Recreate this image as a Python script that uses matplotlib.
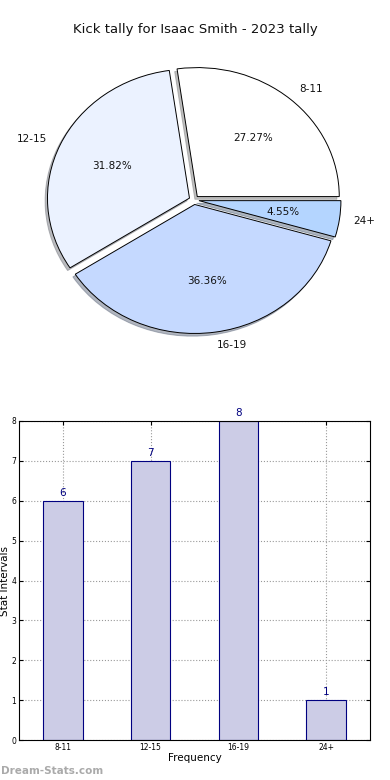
import numpy as np
import matplotlib
matplotlib.use("Agg")
import matplotlib.pyplot as plt

# ================= DATOS =================
categorias = ["8-11", "12-15", "16-19", "24+"]
conteos = [6, 7, 8, 1]
colores_pie = ["#FFFFFF", "#EBF2FF", "#C5D9FF", "#B4D5FF"]

titulo = "Kick tally for Isaac Smith - 2023 tally"

fig = plt.figure(figsize=(3.9, 7.8), dpi=100)

# ================= PIE =================
# el pie original esta algo achatado: escala x e y distintas
ax_pie = fig.add_axes([0, 1 - 360 / 780, 1, 310 / 780])
rx_px = 142.0
ry_px = 129.0
ax_pie.pie(conteos, labels=categorias, colors=colores_pie, autopct="%1.2f%%",
           explode=[0.035] * len(conteos),
           shadow={"ox": -0.012, "oy": -0.015, "shade": 0.5}, startangle=0,
           wedgeprops={"edgecolor": "black", "linewidth": 0.7},
           textprops={"fontsize": 7.5, "color": "#111111"})
ax_pie.set_xlim(-194 / rx_px, 196 / rx_px)
ax_pie.set_ylim(-160 / ry_px, 150 / ry_px)
ax_pie.set_aspect("auto")
ax_pie.axis("off")

fig.text(0.5, 1 - 30 / 780, titulo, ha="center", va="center", fontsize=9.5, color="#111111")

# ================= BARRAS =================
ax_bar = fig.add_axes([19 / 390, 1 - 740 / 780, 351 / 390, 319 / 780])
x = np.arange(len(categorias))
barras = ax_bar.bar(x, conteos, width=0.45, color="#CCCCE6", edgecolor="#000080", linewidth=0.8, zorder=2)

for barra, valor in zip(barras, conteos):
    ax_bar.text(barra.get_x() + barra.get_width() / 2, valor + 0.08, f"{valor}",
                ha="center", va="bottom", fontsize=7.5, color="#000080")

ax_bar.set_xlim(-0.5, 3.5)
ax_bar.set_ylim(0, 8)
ax_bar.set_xticks(x)
ax_bar.set_xticklabels(categorias, fontsize=5.5)
ax_bar.set_yticks(range(0, 9))
ax_bar.tick_params(axis="y", labelsize=5.5, direction="in", length=3, pad=2, right=True)
ax_bar.tick_params(axis="x", direction="in", length=3, pad=2, top=True)
ax_bar.grid(True, linestyle=":", color="#999999", linewidth=0.8, zorder=0)
ax_bar.set_axisbelow(True)
ax_bar.set_xlabel("Frequency", fontsize=7.5, labelpad=1)
ax_bar.set_ylabel("Stat Intervals", fontsize=7.5, labelpad=1)

fig.text(0.002, 1 - 771 / 780, "Dream-Stats.com", ha="left", va="center",
         fontsize=7.5, fontweight="bold", color="#AAAAAA")

fig.savefig("out.png", dpi=100)
